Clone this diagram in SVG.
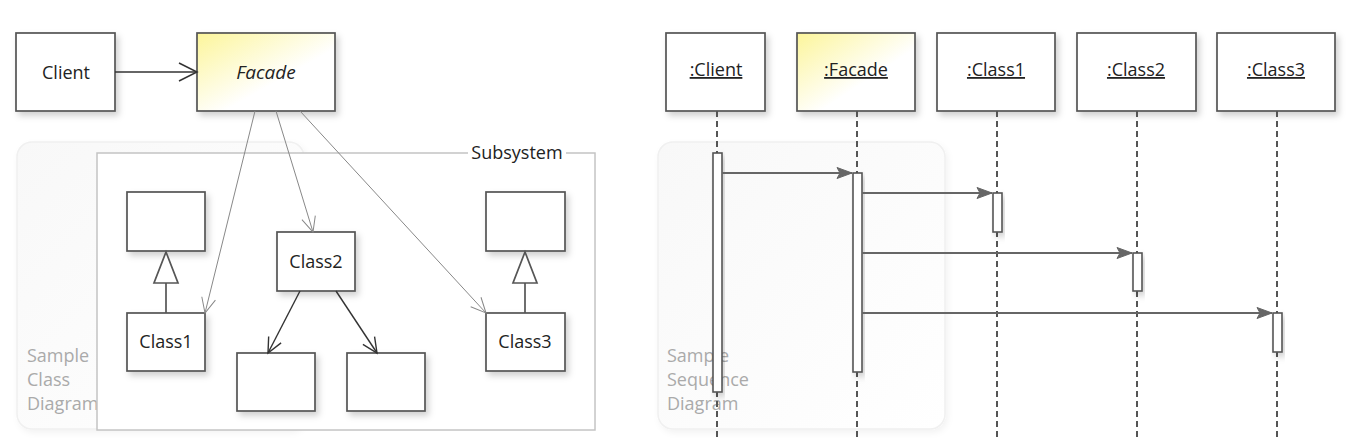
<svg xmlns="http://www.w3.org/2000/svg" width="1360" height="440" viewBox="0 0 1360 440">
  <defs>
    <linearGradient id="yellow" x1="0" y1="0" x2="1" y2="1">
      <stop offset="0" stop-color="#fcf59a"/>
      <stop offset="0.6" stop-color="#ffffff"/>
      <stop offset="1" stop-color="#ffffff"/>
    </linearGradient>
    <linearGradient id="frameFill" x1="0" y1="0" x2="1" y2="1">
      <stop offset="0" stop-color="#f8f8f8"/>
      <stop offset="1" stop-color="#ffffff"/>
    </linearGradient>
    <filter id="shadow" x="-20%" y="-20%" width="150%" height="160%">
      <feDropShadow dx="3" dy="4" stdDeviation="3" flood-color="#000" flood-opacity="0.18"/>
    </filter>
    <filter id="softShadow" x="-10%" y="-10%" width="130%" height="130%">
      <feDropShadow dx="2" dy="3" stdDeviation="3" flood-color="#000" flood-opacity="0.05"/>
    </filter>
    <marker id="openBig" viewBox="-20 -11 22 22" markerWidth="22" markerHeight="22" refX="0" refY="0" orient="auto" markerUnits="userSpaceOnUse">
      <path d="M -18 -9 L 0 0 L -18 9" fill="none" stroke="#333" stroke-width="1.5"/>
    </marker>
    <marker id="openThin" viewBox="-18 -9 20 18" markerWidth="20" markerHeight="18" refX="0" refY="0" orient="auto" markerUnits="userSpaceOnUse">
      <path d="M -15 -7 L 0 0 L -15 7" fill="none" stroke="#888" stroke-width="1"/>
    </marker>
    <marker id="openDark" viewBox="-18 -9 20 18" markerWidth="20" markerHeight="18" refX="0" refY="0" orient="auto" markerUnits="userSpaceOnUse">
      <path d="M -15 -7 L 0 0 L -15 7" fill="none" stroke="#333" stroke-width="1.4"/>
    </marker>
    <marker id="filled" viewBox="-16 -7 17 14" markerWidth="17" markerHeight="14" refX="0" refY="0" orient="auto" markerUnits="userSpaceOnUse">
      <path d="M -15 -5.5 L 0 0 L -15 5.5 L -12 0 Z" fill="#666" stroke="#666" stroke-width="1"/>
    </marker>
  </defs>
  <style>
    .box { fill: #ffffff; stroke: #555; stroke-width: 1.7; filter: url(#shadow); }
    .fbox { fill: url(#yellow); stroke: #555; stroke-width: 1.7; filter: url(#shadow); }
    .frame { fill: url(#frameFill); stroke: #f0f0f0; stroke-width: 1.5; filter: url(#softShadow); }
    .sub { fill: #ffffff; stroke: #c4c4c4; stroke-width: 1.5; }
    .t { font-family: "Open Sans", "Noto Sans", "DejaVu Sans", sans-serif; font-size: 18px; fill: #222; text-anchor: middle; }
    .it { font-style: italic; font-size: 19px; }
    .u { text-decoration: underline; }
    .note { font-family: "Open Sans", "Noto Sans", "DejaVu Sans", sans-serif; font-size: 18px; fill: #aaa; }
    .gen { fill: #fff; stroke: #555; stroke-width: 1.7; }
    .line { fill: none; stroke: #555; stroke-width: 1.7; }
    .assoc { fill: none; stroke: #888; stroke-width: 1; }
    .dep { fill: none; stroke: #333; stroke-width: 1.4; }
    .msg { fill: none; stroke: #666; stroke-width: 2; }
    .life { fill: none; stroke: #555; stroke-width: 2; stroke-dasharray: 6 4; }
    .act { fill: #ffffff; stroke: #555; stroke-width: 1.6; filter: url(#shadow); }
  </style>

  <!-- Class diagram frame -->
  <g id="classFrame">
    <rect class="frame" x="17" y="142" width="287" height="287" rx="15"/>
    <text class="note" x="27" y="362">Sample</text>
    <text class="note" x="27" y="386">Class</text>
    <text class="note" x="27" y="410">Diagram</text>
  </g>

  <!-- Sequence diagram frame -->
  <g id="seqFrame">
    <rect class="frame" x="658" y="142" width="287" height="287" rx="15"/>
    <text class="note" x="667" y="362">Sample</text>
    <text class="note" x="667" y="386">Sequence</text>
    <text class="note" x="667" y="410">Diagram</text>
  </g>

  <!-- Subsystem package -->
  <g id="subsystem">
    <rect class="sub" x="97" y="153" width="498" height="277"/>
    <rect x="468" y="138" width="98" height="18" fill="#ffffff"/>
    <text class="t" x="517" y="159">Subsystem</text>
  </g>

  <!-- Class diagram nodes -->
  <g id="client">
    <rect class="box" x="16" y="33" width="99" height="78"/>
    <text class="t" x="66" y="79">Client</text>
  </g>
  <g id="facade">
    <rect class="fbox" x="197" y="33" width="138" height="78"/>
    <text class="t it" x="266" y="79">Facade</text>
  </g>
  <g id="super1">
    <rect class="box" x="127" y="192" width="78" height="59"/>
  </g>
  <g id="class1">
    <rect class="box" x="127" y="313" width="78" height="58"/>
    <text class="t" x="166" y="348">Class1</text>
  </g>
  <g id="class2">
    <rect class="box" x="277" y="232" width="78" height="59"/>
    <text class="t" x="316" y="268">Class2</text>
  </g>
  <g id="part1">
    <rect class="box" x="237" y="353" width="78" height="58"/>
  </g>
  <g id="part2">
    <rect class="box" x="347" y="353" width="78" height="58"/>
  </g>
  <g id="super3">
    <rect class="box" x="486" y="192" width="79" height="59"/>
  </g>
  <g id="class3">
    <rect class="box" x="486" y="313" width="79" height="58"/>
    <text class="t" x="525" y="348">Class3</text>
  </g>

  <!-- Sequence diagram lifelines -->
  <g id="lifeClient">
    <rect class="box" x="666" y="33" width="99" height="78"/>
    <text class="t u" x="716" y="76">:Client</text>
  </g>
  <g id="lifeFacade">
    <rect class="fbox" x="797" y="33" width="118" height="78"/>
    <text class="t u" x="856" y="76">:Facade</text>
  </g>
  <g id="lifeClass1">
    <rect class="box" x="937" y="33" width="118" height="78"/>
    <text class="t u" x="996" y="76">:Class1</text>
  </g>
  <g id="lifeClass2">
    <rect class="box" x="1077" y="33" width="119" height="78"/>
    <text class="t u" x="1136" y="76">:Class2</text>
  </g>
  <g id="lifeClass3">
    <rect class="box" x="1217" y="33" width="118" height="78"/>
    <text class="t u" x="1276" y="76">:Class3</text>
  </g>

  <!-- Connectors -->
  <g id="connectors">
    <!-- class diagram -->
    <line x1="115" y1="72" x2="197" y2="72" marker-end="url(#openBig)" style="fill:none;stroke:#333;stroke-width:1.5"/>
    <line class="assoc" x1="255" y1="111" x2="205" y2="313" marker-end="url(#openThin)"/>
    <line class="assoc" x1="276" y1="111" x2="313" y2="232" marker-end="url(#openThin)"/>
    <line class="assoc" x1="300" y1="111" x2="486" y2="313" marker-end="url(#openThin)"/>
    <line class="dep" x1="300" y1="291" x2="268" y2="353" marker-end="url(#openDark)"/>
    <line class="dep" x1="336" y1="291" x2="377" y2="353" marker-end="url(#openDark)"/>
    <line class="line" x1="166" y1="283" x2="166" y2="313"/>
    <polygon class="gen" points="166,252 154,283 178,283"/>
    <line class="line" x1="525" y1="283" x2="525" y2="313"/>
    <polygon class="gen" points="525,252 513,283 537,283"/>

    <!-- sequence lifeline stems -->
    <line class="life" x1="717" y1="111" x2="717" y2="440"/>
    <line class="life" x1="857" y1="111" x2="857" y2="440"/>
    <line class="life" x1="997" y1="111" x2="997" y2="440"/>
    <line class="life" x1="1137" y1="111" x2="1137" y2="440"/>
    <line class="life" x1="1277" y1="111" x2="1277" y2="440"/>

    <!-- activations -->
    <rect class="act" x="713" y="153" width="9" height="239"/>
    <rect class="act" x="853" y="173" width="9" height="199"/>
    <rect class="act" x="993" y="193" width="9" height="39"/>
    <rect class="act" x="1133" y="253" width="9" height="38"/>
    <rect class="act" x="1273" y="313" width="9" height="39"/>

    <!-- messages -->
    <line class="msg" x1="722" y1="173" x2="852" y2="173" marker-end="url(#filled)"/>
    <line class="msg" x1="862" y1="193" x2="992" y2="193" marker-end="url(#filled)"/>
    <line class="msg" x1="862" y1="253" x2="1132" y2="253" marker-end="url(#filled)"/>
    <line class="msg" x1="862" y1="313" x2="1272" y2="313" marker-end="url(#filled)"/>
  </g>
</svg>
